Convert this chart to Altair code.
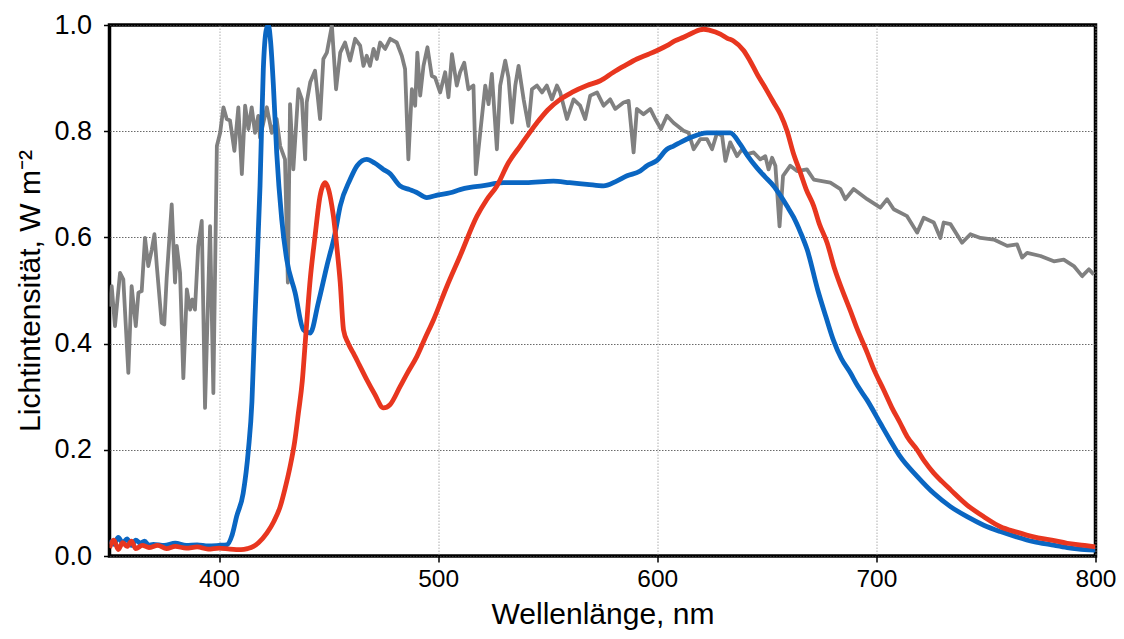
import altair as alt
import pandas as pd

# ---- data ----
gray_wl = [350, 351.0, 352.5, 354.8, 356.3, 358.6, 360.1, 362.0, 363.2, 364.7, 366.2, 367.7, 369.3, 370.5,
           371.6, 373.8, 375.0, 376.1, 378.4, 379.9, 380.7, 382.2, 383.7, 385.3, 386.8, 387.8, 389.0, 390.5,
           392.1, 393.6, 395.9, 397.4, 399.0, 400.5, 402.0, 403.5, 405.0, 407.0, 408.8, 410.4, 411.9, 413.4,
           414.9, 416.4, 417.9, 418.7, 421.8, 424.1, 426.3, 427.9, 430.1, 431.4, 432.4, 433.9, 436.2, 437.8,
           439.3, 440.0, 441.6, 443.8, 446.1, 447.6, 449.2, 451.5, 453.4, 455.3, 457.5, 459.8, 462.1, 464.4,
           465.9, 467.4, 468.9, 470.5, 472.0, 473.5, 475.8, 478.1, 481.1, 483.4, 484.9, 486.4, 488.0, 489.5,
           490.5, 491.8, 493.3, 495.1, 497.1, 498.6, 500.9, 503.2, 504.7, 506.3, 508.5, 510.0, 511.9, 513.8,
           516.1, 517.2, 519.2, 521.5, 523.0, 524.5, 526.8, 528.3, 530.6, 532.1, 533.7, 535.2, 536.7, 539.0,
           541.2, 542.8, 545.1, 547.4, 549.6, 551.9, 554.2, 555.7, 558.8, 561.8, 564.8, 567.1, 569.4, 572.5,
           575.5, 578.5, 580.8, 584.6, 586.9, 589.2, 590.7, 593.7, 596.8, 599.1, 601.7, 604.4, 607.4, 612.0,
           614.3, 616.6, 619.6, 622.7, 625.0, 627.3, 629.6, 631.1, 633.3, 636.4, 638.7, 641.0, 644.0, 647.0,
           649.3, 650.8, 652.4, 653.9, 655.8, 657.4, 660.7, 663.8, 668.3, 671.4, 675.2, 679.0, 683.6, 685.8,
           689.6, 695.8, 701.8, 704.9, 707.9, 714.0, 718.6, 721.6, 726.2, 729.2, 730.7, 733.8, 739.1, 742.9,
           747.5, 753.6, 759.7, 764.2, 766.5, 768.8, 774.9, 781.0, 785.5, 790.1, 793.9, 797.0, 799.2]
gray_val = [0.47, 0.508, 0.433, 0.533, 0.521, 0.345, 0.508, 0.433, 0.496, 0.499, 0.599, 0.546, 0.577, 0.606,
            0.546, 0.439, 0.436, 0.524, 0.662, 0.515, 0.584, 0.533, 0.335, 0.502, 0.464, 0.483, 0.464, 0.584,
            0.631, 0.279, 0.621, 0.307, 0.772, 0.797, 0.845, 0.823, 0.820, 0.763, 0.845, 0.719, 0.848, 0.804,
            0.845, 0.797, 0.829, 0.788, 0.845, 0.797, 0.823, 0.772, 0.747, 0.515, 0.851, 0.728, 0.879, 0.860,
            0.747, 0.854, 0.892, 0.914, 0.823, 0.936, 0.948, 0.999, 0.879, 0.948, 0.967, 0.933, 0.974, 0.961,
            0.923, 0.942, 0.923, 0.955, 0.936, 0.967, 0.955, 0.974, 0.967, 0.942, 0.917, 0.747, 0.879, 0.848,
            0.948, 0.867, 0.923, 0.958, 0.904, 0.901, 0.873, 0.911, 0.864, 0.945, 0.886, 0.911, 0.929, 0.879,
            0.886, 0.719, 0.797, 0.886, 0.851, 0.908, 0.766, 0.886, 0.933, 0.901, 0.816, 0.886, 0.923, 0.860,
            0.810, 0.879, 0.886, 0.873, 0.886, 0.860, 0.886, 0.873, 0.823, 0.860, 0.848, 0.823, 0.867, 0.873,
            0.848, 0.860, 0.842, 0.854, 0.857, 0.760, 0.842, 0.832, 0.842, 0.823, 0.804, 0.829, 0.816, 0.801,
            0.797, 0.766, 0.785, 0.785, 0.766, 0.797, 0.791, 0.744, 0.779, 0.753, 0.766, 0.757, 0.760, 0.747,
            0.753, 0.728, 0.750, 0.735, 0.621, 0.716, 0.735, 0.725, 0.728, 0.709, 0.706, 0.703, 0.691, 0.672,
            0.691, 0.672, 0.656, 0.672, 0.653, 0.640, 0.609, 0.637, 0.628, 0.599, 0.628, 0.625, 0.590, 0.606,
            0.599, 0.596, 0.584, 0.587, 0.562, 0.571, 0.565, 0.555, 0.558, 0.546, 0.527, 0.540, 0.530]

blue_wl = [350, 352, 354, 356, 358, 360, 362, 364, 366, 368, 370, 375, 380, 385, 390, 395, 400, 403.5, 406,
           408, 411, 413.4, 415, 416.4, 418.7, 420.2, 421.5, 422.5, 423.5, 424.8, 426.3, 428.6, 430.9, 434.7,
           438.5, 441.6, 445.3, 449.2, 453, 455.3, 459.8, 463, 467.4, 471, 475, 478, 482.6, 487, 490, 494.8,
           500, 505.5, 510, 514.6, 520, 529.8, 540, 552.6, 560, 567.9, 575.5, 581, 586.2, 592.2, 595.3, 599.9,
           604.4, 607.4, 611, 615.1, 622.7, 628.8, 633.3, 637.9, 641, 645.5, 649, 653.1, 656, 659.2, 662.2,
           665.3, 668.4, 673.3, 677, 680.5, 684, 688.1, 691.5, 695.7, 701.8, 706, 710.9, 718.6, 726.2, 733.8,
           741.4, 749, 756.6, 764, 771.8, 780, 787.1, 795, 800]
blue_val = [0.03, 0.022, 0.035, 0.025, 0.032, 0.02, 0.03, 0.024, 0.028, 0.02, 0.022, 0.02, 0.024, 0.02, 0.021,
            0.019, 0.02, 0.021, 0.04, 0.074, 0.118, 0.2, 0.29, 0.45, 0.697, 0.917, 0.99, 1.0, 0.97, 0.886, 0.76,
            0.634, 0.558, 0.496, 0.426, 0.42, 0.477, 0.546, 0.609, 0.659, 0.709, 0.735, 0.747, 0.74, 0.728, 0.72,
            0.697, 0.69, 0.685, 0.675, 0.68, 0.684, 0.69, 0.694, 0.697, 0.703, 0.703, 0.706, 0.703, 0.70, 0.697,
            0.705, 0.716, 0.725, 0.735, 0.745, 0.766, 0.772, 0.78, 0.788, 0.797, 0.797, 0.797, 0.775, 0.755,
            0.731, 0.715, 0.697, 0.68, 0.659, 0.638, 0.61, 0.577, 0.50, 0.45, 0.405, 0.372, 0.345, 0.32, 0.294,
            0.25, 0.22, 0.187, 0.15, 0.118, 0.093, 0.074, 0.058, 0.046, 0.036, 0.027, 0.021, 0.016, 0.012, 0.011]

red_wl = [350, 352, 354, 356, 358, 360, 362, 365, 368, 372, 376, 380, 385, 390, 395, 400, 405, 410, 413,
          415.7, 418, 421.8, 425, 427.9, 430, 432.4, 434.5, 436.2, 438, 439.3, 441.6, 443.8, 446.1, 448.4, 450,
          451.5, 452.2, 453.8, 455.3, 456.8, 459, 461.3, 464, 467.4, 471, 475, 478, 482.6, 486, 490.3, 494,
          497.9, 504, 510, 517.7, 522, 526.8, 532, 537.4, 545.1, 550, 555.7, 561, 567.9, 574, 580, 585, 590.7,
          596, 599.9, 604.4, 608, 612, 616, 621.1, 624, 628.8, 632, 634.8, 639.4, 642, 645.5, 650.1, 653, 656.2,
          659.2, 662, 665.3, 668, 671.4, 674, 677.5, 681, 684.3, 688.1, 691, 695.7, 699, 703.3, 707, 710.9, 714,
          718.6, 722, 726.2, 730, 733.8, 741.4, 749, 756.6, 764, 771.8, 780, 787.1, 795, 800]
red_val = [0.015, 0.03, 0.012, 0.025, 0.018, 0.028, 0.014, 0.02, 0.016, 0.02, 0.014, 0.018, 0.015, 0.017,
           0.013, 0.015, 0.013, 0.012, 0.014, 0.018, 0.025, 0.043, 0.065, 0.093, 0.125, 0.168, 0.215, 0.269,
           0.33, 0.40, 0.521, 0.602, 0.678, 0.703, 0.69, 0.659, 0.640, 0.58, 0.515, 0.426, 0.40, 0.382, 0.36,
           0.332, 0.305, 0.279, 0.285, 0.319, 0.345, 0.376, 0.41, 0.445, 0.508, 0.565, 0.64, 0.67, 0.697, 0.74,
           0.772, 0.816, 0.84, 0.860, 0.873, 0.886, 0.895, 0.911, 0.923, 0.936, 0.945, 0.952, 0.961, 0.97,
           0.977, 0.985, 0.992, 0.99, 0.983, 0.975, 0.970, 0.952, 0.935, 0.908, 0.876, 0.855, 0.832, 0.801,
           0.76, 0.722, 0.69, 0.659, 0.625, 0.590, 0.540, 0.502, 0.462, 0.43, 0.384, 0.35, 0.313, 0.28, 0.250,
           0.225, 0.200, 0.178, 0.156, 0.14, 0.125, 0.096, 0.074, 0.055, 0.045, 0.036, 0.03, 0.024, 0.02, 0.017]

x_ticks = [400, 500, 600, 700, 800]
y_ticks = [0.0, 0.2, 0.4, 0.6, 0.8, 1.0]

gray_df = pd.DataFrame({"wl": gray_wl, "val": gray_val})
blue_df = pd.DataFrame({"wl": blue_wl, "val": blue_val})
red_df = pd.DataFrame({"wl": red_wl, "val": red_val})

x_enc = alt.X("wl:Q",
              scale=alt.Scale(domain=[350, 800], nice=False, zero=False),
              axis=alt.Axis(values=x_ticks, title="Wellenlänge, nm", format="d",
                            labelFlush=False, labelPadding=5, labelFontSize=24.5,
                            titleY=67, titleBaseline="alphabetic"))
y_enc = alt.Y("val:Q",
              scale=alt.Scale(domain=[0, 1], nice=False),
              axis=alt.Axis(values=y_ticks, title="Lichtintensität, W m⁻²", format=".1f",
                            labelFlush=False, labelPadding=12, labelFontSize=27,
                            titleX=-70, titleBaseline="alphabetic"))


def layer(df, color, width, interp):
    return alt.Chart(df).mark_line(color=color, strokeWidth=width, clip=True,
                                   strokeJoin="round", interpolate=interp).encode(
        x=x_enc, y=y_enc, order="wl:Q")


chart = alt.layer(
    layer(gray_df, "#808080", 3.8, "linear"),
    layer(blue_df, "#0a66c2", 4.8, "monotone"),
    layer(red_df, "#e8361f", 4.8, "monotone"),
).properties(
    width=986, height=531,
    padding={"left": 101.5, "top": 17, "right": 20.5, "bottom": 75},
    autosize=alt.AutoSizeParams(type="none"),
).configure_view(
    stroke="black", strokeWidth=3.5
).configure_axis(
    domain=False,
    grid=True,
    gridDash=[1.5, 1.5],
    gridWidth=0.8,
    tickColor="black", tickSize=6, tickWidth=1.5,
    labelFont="Liberation Sans", labelColor="black",
    titleFont="Liberation Sans", titleFontSize=30, titleFontWeight="normal", titleColor="black",
).configure_axisX(
    gridColor="#9a9a9a"
).configure_axisY(
    gridColor="#444444"
)

chart.save("out.html", embed_options={"renderer": "svg", "actions": False})
